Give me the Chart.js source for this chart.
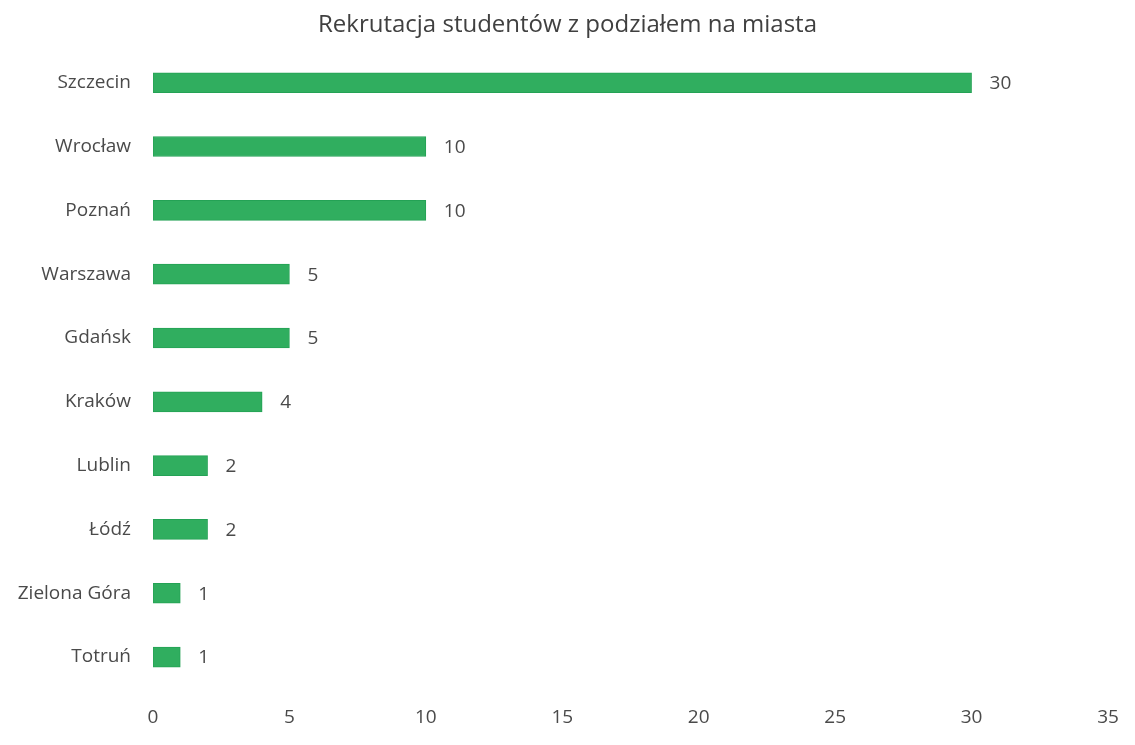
<!DOCTYPE html>
<html>
<head>
<meta charset="utf-8">
<script src="https://cdn.jsdelivr.net/npm/chart.js@4"></script>
<style>
    html, body { margin: 0; padding: 0; background: #ffffff; }
    #wrap { width: 1135px; height: 745px; }
</style>
</head>
<body>
<div id="wrap"><canvas id="chart"></canvas></div>
<script>
// dane z wykresu
const cities = ['Szczecin', 'Wrocław', 'Poznań', 'Warszawa', 'Gdańsk', 'Kraków', 'Lublin', 'Łódź', 'Zielona Góra', 'Totruń'];
const students = [30, 10, 10, 5, 5, 4, 2, 2, 1, 1];
const xTicks = [0, 5, 10, 15, 20, 25, 30, 35];

const textColor = '#4a4a4a';
const barColor = '#30ae5f';
const fontFamily = "'Open Sans', 'Noto Sans', sans-serif";

// etykiety wartości przy końcach słupków
const valueLabels = {
    id: 'valueLabels',
    afterDatasetsDraw(chart) {
        const ctx = chart.ctx;
        const meta = chart.getDatasetMeta(0);
        ctx.save();
        ctx.fillStyle = textColor;
        ctx.font = '19px ' + fontFamily;
        ctx.textAlign = 'left';
        ctx.textBaseline = 'middle';
        meta.data.forEach((bar, i) => {
            ctx.fillText(String(students[i]), bar.x + 18, bar.y + 1);
        });
        ctx.restore();
    }
};

new Chart(document.getElementById('chart').getContext('2d'), {
    type: 'bar',
    data: {
        labels: cities,
        datasets: [{
            data: students,
            backgroundColor: barColor,
            borderColor: '#24a255',
            borderWidth: 1,
            borderSkipped: false,
            barThickness: 20
        }]
    },
    options: {
        indexAxis: 'y',
        responsive: true,
        maintainAspectRatio: false,
        animation: false,
        layout: {
            padding: { left: 0, right: 0, top: 0, bottom: 15 }
        },
        plugins: {
            legend: { display: false },
            tooltip: { enabled: false },
            title: {
                display: true,
                text: 'Rekrutacja studentów z podziałem na miasta',
                color: '#404040',
                font: { family: fontFamily, size: 24, weight: 'normal' },
                padding: { top: 11, bottom: 11 }
            }
        },
        scales: {
            x: {
                min: 0,
                max: 35,
                afterBuildTicks(axis) {
                    axis.ticks = xTicks.map(v => ({ value: v }));
                },
                afterFit(axis) {
                    axis.height = 41;
                    axis.paddingRight = 27;
                },
                grid: { display: false, drawTicks: false },
                border: { display: false },
                ticks: {
                    color: textColor,
                    padding: 17,
                    font: { family: fontFamily, size: 19 }
                }
            },
            y: {
                afterFit(axis) {
                    axis.width = 153;
                },
                grid: { display: false, drawTicks: false },
                border: { display: false },
                ticks: {
                    color: textColor,
                    padding: 22,
                    font: { family: fontFamily, size: 19 }
                }
            }
        }
    },
    plugins: [valueLabels]
});
</script>
</body>
</html>
